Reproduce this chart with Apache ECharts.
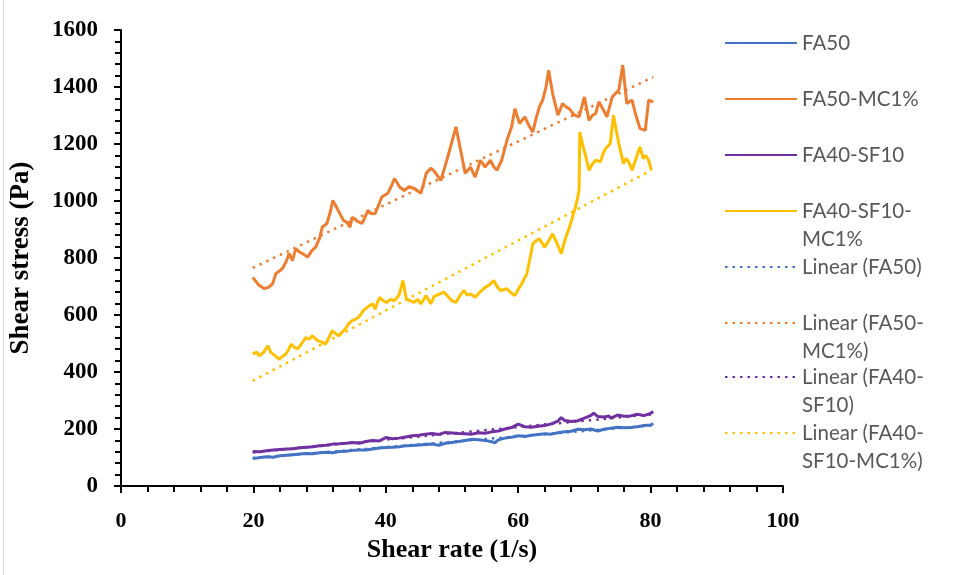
<!DOCTYPE html>
<html>
<head>
<meta charset="utf-8">
<script src="https://cdn.jsdelivr.net/npm/echarts@6/dist/echarts.min.js"></script>
<style>
  html, body { margin: 0; padding: 0; background: #ffffff; }
  #chart { width: 957px; height: 575px; }
</style>
</head>
<body>
<div id="chart"></div>
<script>
// Shear rate (1/s) and shear stress (Pa) readings for each mix
const fa50Rate   = [19.9, 21, 22, 23, 24, 25, 26, 27, 28, 29, 30, 31, 32, 33, 34, 35, 36, 37, 38, 39, 40, 41, 42, 43, 44, 45, 46, 47, 48, 49, 50, 51, 52, 53, 54, 55, 56, 56.5, 57, 58, 59, 60, 61, 62, 63, 64, 65, 66, 67, 68, 69, 70, 71, 72, 73, 74, 75, 76, 77, 78, 79, 80, 80.4];
const fa50Stress = [96, 100, 103, 101, 106, 108, 110, 112, 114, 113, 117, 118, 117, 121, 122, 125, 126, 126, 130, 133, 135, 136, 138, 141, 142, 144, 146, 147, 143, 150, 153, 156, 160, 164, 162, 160, 155, 152, 162, 168, 171, 176, 174, 178, 181, 183, 182, 187, 190, 192, 199, 197, 200, 193, 199, 203, 206, 204, 205, 208, 212, 214, 219];

const fa50McRate   = [19.9, 20.8, 21.6, 22.3, 22.9, 23.4, 24.4, 25.0, 25.4, 25.9, 26.4, 27.0, 27.4, 28.2, 28.8, 29.4, 30.0, 30.4, 31.1, 31.6, 32.0, 32.4, 32.8, 33.6, 34.1, 34.6, 34.9, 35.6, 36.4, 36.9, 37.3, 37.8, 38.4, 38.9, 39.4, 40.3, 40.8, 41.3, 42.1, 42.8, 43.5, 44.3, 45.3, 45.7, 46.1, 46.8, 47.3, 48.3, 48.8, 49.3, 49.9, 50.6, 51.3, 52.0, 52.8, 53.5, 54.3, 55.0, 55.8, 56.3, 56.8, 57.5, 58.3, 59.0, 59.5, 60.2, 61.0, 61.6, 62.2, 62.7, 63.2, 63.7, 64.2, 64.6, 65.2, 66.0, 66.7, 67.2, 67.7, 68.5, 69.2, 70.0, 70.7, 71.2, 71.7, 72.2, 72.9, 73.4, 74.2, 75.2, 75.8, 76.4, 77.2, 77.7, 78.4, 79.2, 79.7, 80.4];
const fa50McStress = [732, 705, 693, 697, 710, 745, 763, 790, 816, 791, 833, 820, 816, 803, 825, 838, 870, 908, 921, 960, 1002, 985, 967, 932, 925, 908, 943, 930, 921, 945, 967, 955, 956, 985, 1014, 1027, 1050, 1079, 1049, 1037, 1050, 1044, 1027, 1060, 1097, 1115, 1105, 1072, 1110, 1150, 1200, 1260, 1178, 1097, 1119, 1084, 1143, 1119, 1143, 1120, 1108, 1143, 1213, 1260, 1324, 1272, 1295, 1265, 1242, 1290, 1330, 1354, 1400, 1459, 1377, 1301, 1342, 1330, 1324, 1301, 1295, 1365, 1283, 1300, 1307, 1348, 1318, 1295, 1365, 1389, 1477, 1342, 1354, 1307, 1254, 1248, 1354, 1348];

const fa40SfRate   = [19.9, 21, 22, 23, 24, 25, 26, 27, 28, 29, 30, 31, 32, 33, 34, 35, 36, 37, 38, 39, 40, 41, 42, 43, 44, 45, 46, 47, 48, 49, 50, 51, 52, 53, 54, 55, 56, 57, 58, 59, 60, 61, 62, 63, 64, 65, 66, 66.5, 67, 68, 69, 70, 71, 71.4, 72, 73, 73.7, 74, 75, 76, 77, 78, 79, 80, 80.4];
const fa40SfStress = [121, 120, 124, 126, 128, 130, 131, 134, 136, 138, 141, 143, 147, 148, 150, 153, 150, 156, 160, 158, 170, 166, 168, 172, 176, 178, 182, 184, 181, 188, 186, 184, 183, 182, 187, 185, 190, 193, 200, 205, 217, 208, 206, 210, 212, 218, 228, 240, 230, 226, 229, 238, 248, 256, 244, 242, 246, 238, 249, 245, 246, 252, 247, 255, 261];

const fa40SfMcRate   = [19.9, 20.5, 20.9, 21.5, 22.2, 22.6, 22.9, 23.4, 23.9, 24.4, 24.9, 25.3, 25.7, 26.2, 26.7, 27.3, 27.9, 28.4, 28.9, 29.7, 30.3, 30.9, 31.4, 31.9, 32.4, 32.9, 33.4, 33.9, 34.4, 34.9, 35.4, 35.9, 36.6, 37.1, 37.6, 38.0, 38.4, 38.8, 39.1, 39.6, 40.1, 40.7, 41.3, 42.0, 42.6, 43.1, 43.7, 44.3, 44.8, 45.3, 46.1, 46.8, 47.3, 48.0, 48.8, 49.4, 50.0, 50.6, 51.2, 51.8, 52.3, 52.8, 53.5, 54.2, 55.0, 55.6, 56.3, 56.8, 57.3, 58.3, 58.9, 59.5, 60.0, 60.5, 61.3, 61.8, 62.2, 62.7, 63.2, 64.0, 64.6, 65.2, 65.9, 66.5, 66.9, 67.2, 67.7, 68.2, 68.6, 69.0, 69.2, 69.3, 69.7, 70.1, 70.7, 71.2, 71.7, 72.4, 72.8, 73.2, 73.9, 74.4, 74.8, 75.2, 75.9, 76.3, 76.7, 77.2, 77.7, 78.4, 78.9, 79.3, 79.7, 80.1];
const fa40SfMcStress = [463, 470, 457, 468, 492, 470, 463, 455, 445, 455, 463, 478, 498, 486, 481, 500, 521, 515, 527, 510, 505, 498, 520, 545, 535, 527, 540, 551, 570, 580, 585, 592, 615, 625, 633, 640, 621, 648, 662, 650, 644, 655, 650, 670, 721, 656, 650, 644, 655, 639, 668, 639, 665, 672, 680, 665, 650, 644, 668, 686, 670, 674, 662, 680, 697, 705, 721, 700, 686, 692, 678, 668, 690, 709, 744, 800, 850, 860, 867, 838, 860, 885, 850, 815, 850, 873, 905, 943, 975, 1014, 1040, 1242, 1200, 1166, 1108, 1130, 1143, 1137, 1165, 1184, 1201, 1301, 1250, 1201, 1131, 1150, 1137, 1108, 1143, 1190, 1149, 1160, 1143, 1108];

// Linear trend lines: [start, end] as (rate, stress)
const fa50TrendRate = [19.9, 80.4],     fa50TrendStress = [98, 213];
const fa50McTrendRate = [19.9, 80.4],   fa50McTrendStress = [765, 1435];
const fa40SfTrendRate = [19.9, 80.4],   fa40SfTrendStress = [118, 252];
const fa40SfMcTrendRate = [19.9, 80.1], fa40SfMcTrendStress = [369, 1108];

// Axis ticks
const xTicks = { min: 0, max: 100, step: 20 };
const yTicks = { min: 0, max: 1600, step: 200 };

const pairs = (xs, ys) => xs.map((x, i) => [x, ys[i]]);

const COLORS = {
  blue: '#4472C4',
  orange: '#ED7D31',
  purple: '#7030A0',
  yellow: '#FFC000'
};

function solid(name, color, xs, ys) {
  return {
    name, type: 'line', data: pairs(xs, ys),
    symbol: 'none', smooth: false,
    lineStyle: { color, width: 3 },
    itemStyle: { color },
    z: 3
  };
}
function trend(name, color, xs, ys) {
  return {
    name, type: 'line', data: pairs(xs, ys),
    symbol: 'none',
    lineStyle: { color, width: 2.5, type: [2.5, 5] },
    itemStyle: { color },
    z: 2
  };
}

const series = [
  solid('FA50', COLORS.blue, fa50Rate, fa50Stress),
  solid('FA50-MC1%', COLORS.orange, fa50McRate, fa50McStress),
  solid('FA40-SF10', COLORS.purple, fa40SfRate, fa40SfStress),
  solid('FA40-SF10-MC1%', COLORS.yellow, fa40SfMcRate, fa40SfMcStress),
  trend('Linear (FA50)', COLORS.blue, fa50TrendRate, fa50TrendStress),
  trend('Linear (FA50-MC1%)', COLORS.orange, fa50McTrendRate, fa50McTrendStress),
  trend('Linear (FA40-SF10)', COLORS.purple, fa40SfTrendRate, fa40SfTrendStress),
  trend('Linear (FA40-SF10-MC1%)', COLORS.yellow, fa40SfMcTrendRate, fa40SfMcTrendStress)
];

// Legend entries: series name, wrapped label lines, icon centre y
const legendNames  = ['FA50', 'FA50-MC1%', 'FA40-SF10', 'FA40-SF10-MC1%', 'Linear (FA50)', 'Linear (FA50-MC1%)', 'Linear (FA40-SF10)', 'Linear (FA40-SF10-MC1%)'];
const legendLines  = [['FA50'], ['FA50-MC1%'], ['FA40-SF10'], ['FA40-SF10-', 'MC1%'], ['Linear (FA50)'], ['Linear (FA50-', 'MC1%)'], ['Linear (FA40-', 'SF10)'], ['Linear (FA40-', 'SF10-MC1%)']];
const legendCentre = [43, 99, 155, 211, 267, 323, 377, 433];

const LINE_H = 28;
const legends = legendNames.map((name, i) => {
  const lines = legendLines[i];
  // a leading blank line keeps the first text line level with the icon
  const text = lines.length > 1 ? '\n' + lines.join('\n') : lines[0];
  const rows = lines.length > 1 ? 3 : 1;
  return {
    data: [name],
    orient: 'vertical',
    left: 724,
    top: legendCentre[i] - rows * LINE_H / 2,
    padding: 0,
    itemWidth: 72,
    itemHeight: 14,
    selectedMode: false,
    itemStyle: { opacity: 0, borderWidth: 0 },
    formatter: () => text,
    textStyle: {
      fontFamily: 'Lato, "Open Sans", sans-serif',
      fontSize: 20.5,
      color: '#595959',
      lineHeight: LINE_H
    }
  };
});

const axisFont = { fontFamily: '"Liberation Serif", "Times New Roman", serif', fontWeight: 'bold', color: '#000' };

const option = {
  animation: false,
  backgroundColor: '#ffffff',
  grid: { left: 110, right: 174, top: 30, bottom: 89, containLabel: false },
  legend: legends,
  xAxis: {
    type: 'value',
    min: xTicks.min, max: xTicks.max, interval: xTicks.step,
    name: 'Shear rate (1/s)',
    nameLocation: 'middle',
    nameGap: 51,
    nameTextStyle: Object.assign({ fontSize: 26 }, axisFont),
    axisLine: { show: true, onZero: false, lineStyle: { color: '#000', width: 2 } },
    axisTick: { show: true, inside: false, length: 7, lineStyle: { color: '#000', width: 2 } },
    minorTick: { show: true, splitNumber: 5, length: 6, lineStyle: { color: '#000', width: 2 } },
    splitLine: { show: false },
    axisLabel: Object.assign({ fontSize: 22, margin: 24, formatter: v => String(v) }, axisFont)
  },
  yAxis: {
    type: 'value',
    min: yTicks.min, max: yTicks.max, interval: yTicks.step,
    name: 'Shear stress (Pa)',
    nameLocation: 'middle',
    nameGap: 86,
    nameTextStyle: Object.assign({ fontSize: 27 }, axisFont),
    axisLine: { show: true, onZero: false, lineStyle: { color: '#000', width: 2 } },
    axisTick: { show: true, inside: false, length: 7, lineStyle: { color: '#000', width: 2 } },
    minorTick: { show: true, splitNumber: 5, length: 6, lineStyle: { color: '#000', width: 2 } },
    splitLine: { show: false },
    axisLabel: Object.assign({ fontSize: 23, margin: 23, formatter: v => String(v) }, axisFont)
  },
  graphic: [{
    type: 'line',
    shape: { x1: 3.5, y1: 0, x2: 3.5, y2: 575 },
    style: { stroke: '#D9D9D9', lineWidth: 1 },
    silent: true
  }],
  series
};

const chart = echarts.init(document.getElementById('chart'), null, { renderer: 'canvas' });
chart.setOption(option);
</script>
</body>
</html>
